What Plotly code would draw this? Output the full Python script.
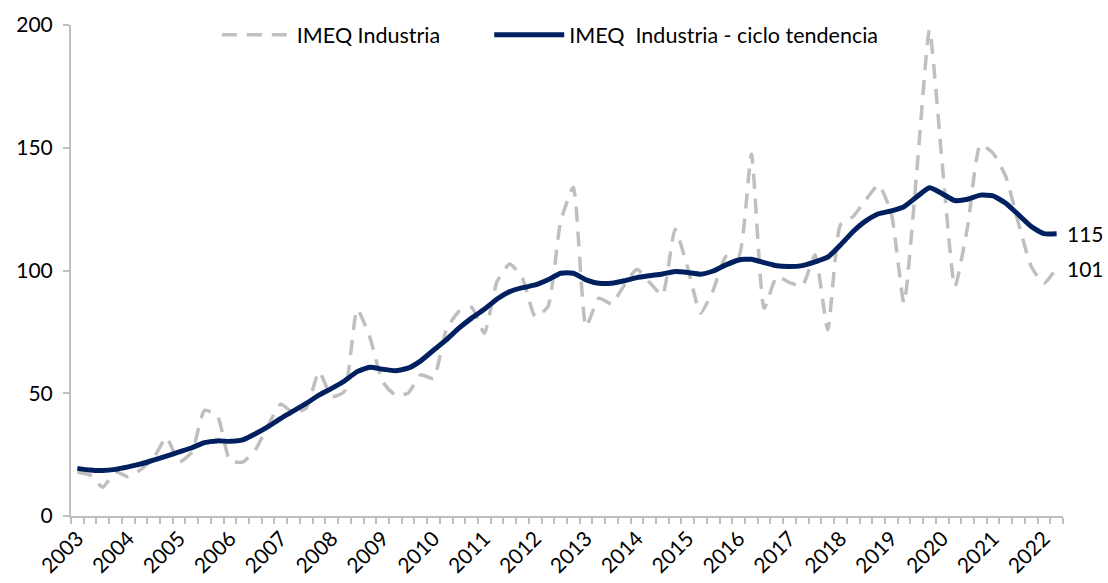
import plotly.graph_objects as go

years = list(range(2003, 2023))
quarters = [f"{y}T{q}" for y in years for q in range(1, 5)][:78]

imeq = [17.8, 16.7, 11.7, 18.0, 16.0, 19.0, 23.6, 32.0, 22.0, 26.0,
        43.0, 41.0, 22.5, 22.0, 27.0, 37.0, 45.5, 42.0, 44.0, 58.8,
        48.6, 50.7, 84.2, 72.8, 54.7, 49.3, 50.0, 57.5, 56.0, 75.8,
        83.3, 85.0, 74.4, 95.5, 102.6, 96.8, 81.2, 85.3, 119.9, 133.9,
        77.1, 88.7, 86.4, 94.0, 100.5, 95.1, 90.0, 116.8, 101.0, 82.6,
        92.1, 105.7, 105.7, 147.5, 84.6, 97.5, 95.1, 93.7, 106.4, 75.8,
        118.6, 122.0, 128.8, 134.9, 123.3, 86.7, 140.0, 198.0, 143.7, 93.4,
        117.9, 151.2, 147.8, 138.3, 119.3, 101.6, 94.8, 101.0]

tendencia = [19.4, 18.7, 18.5, 19.0, 20.0, 21.2, 22.8, 24.4, 26.1, 27.8,
             29.9, 30.6, 30.4, 31.0, 33.5, 36.4, 39.8, 42.8, 45.9, 49.2,
             52.0, 55.0, 58.8, 60.6, 59.8, 59.2, 60.2, 63.2, 67.5, 71.7,
             76.5, 80.6, 84.2, 88.4, 91.4, 93.0, 94.1, 96.2, 98.9, 98.9,
             96.2, 94.8, 94.8, 95.8, 97.1, 97.9, 98.6, 99.6, 99.2, 98.5,
             99.8, 102.3, 104.3, 104.6, 103.2, 101.9, 101.6, 102.0, 103.5, 105.4,
             110.4, 115.9, 120.2, 123.1, 124.3, 126.0, 130.0, 133.7, 131.3, 128.5,
             129.0, 130.7, 130.4, 127.4, 122.7, 117.9, 115.0, 115.0]

year_labels = [str(y) for y in years]
y_ticks = [0, 50, 100, 150, 200]

idx = list(range(len(quarters)))
FONT = "Lato"
FS = 21

fig = go.Figure()
fig.add_trace(go.Scatter(
    x=idx, y=imeq, mode="lines", name="IMEQ Industria" + "\u00a0" * 8,
    line=dict(color="#bfbfbf", width=3.5, dash="15px,10px", shape="spline", smoothing=0.5),
    hovertext=quarters,
))
fig.add_trace(go.Scatter(
    x=idx, y=tendencia, mode="lines", name="IMEQ\u00a0 Industria - ciclo tendencia",
    line=dict(color="#002060", width=5, shape="spline", smoothing=0.5),
    hovertext=quarters,
))

last = len(idx) - 1
fig.add_annotation(x=last, y=tendencia[-1], text=f"{round(tendencia[-1])}", showarrow=False,
                   xanchor="left", xshift=8, font=dict(family=FONT, size=FS, color="#000000"))
fig.add_annotation(x=last, y=imeq[-1], text=f"{round(imeq[-1])}", showarrow=False,
                   xanchor="left", xshift=8, font=dict(family=FONT, size=FS, color="#000000"))

fig.update_layout(
    width=1108, height=583,
    margin=dict(l=71, r=45, t=25, b=67, autoexpand=False),
    plot_bgcolor="white", paper_bgcolor="white",
    font=dict(family=FONT, size=FS, color="#000000"),
    showlegend=True,
    legend=dict(orientation="h", x=0.147, y=0.98, xanchor="left", yanchor="middle",
                itemwidth=70, font=dict(family=FONT, size=21.5), bgcolor="rgba(0,0,0,0)",
                tracegroupgap=0),
    xaxis=dict(
        range=[-0.5, len(idx) - 0.5],
        tickmode="array", tickvals=[i * 4 for i in range(len(year_labels))], ticktext=year_labels,
        tickangle=-45, ticks="", showgrid=False, zeroline=False,
        showline=True, linecolor="#bfbfbf", linewidth=2,
        minor=dict(ticks="outside", tick0=-0.5, dtick=1, ticklen=6, tickcolor="#bfbfbf", tickwidth=1.5),
        tickfont=dict(family=FONT, size=FS),
    ),
    yaxis=dict(
        range=[0, 200], tickmode="array", tickvals=y_ticks,
        ticks="outside", ticklen=6, tickcolor="#bfbfbf", tickwidth=1.5,
        showgrid=False, zeroline=False, showline=True, linecolor="#bfbfbf", linewidth=2,
        tickfont=dict(family=FONT, size=FS), ticklabelstandoff=6,
    ),
)

fig.write_html("out.html", config={"displayModeBar": False},
               post_script="document.body.style.margin='0';document.body.style.padding='0';")
